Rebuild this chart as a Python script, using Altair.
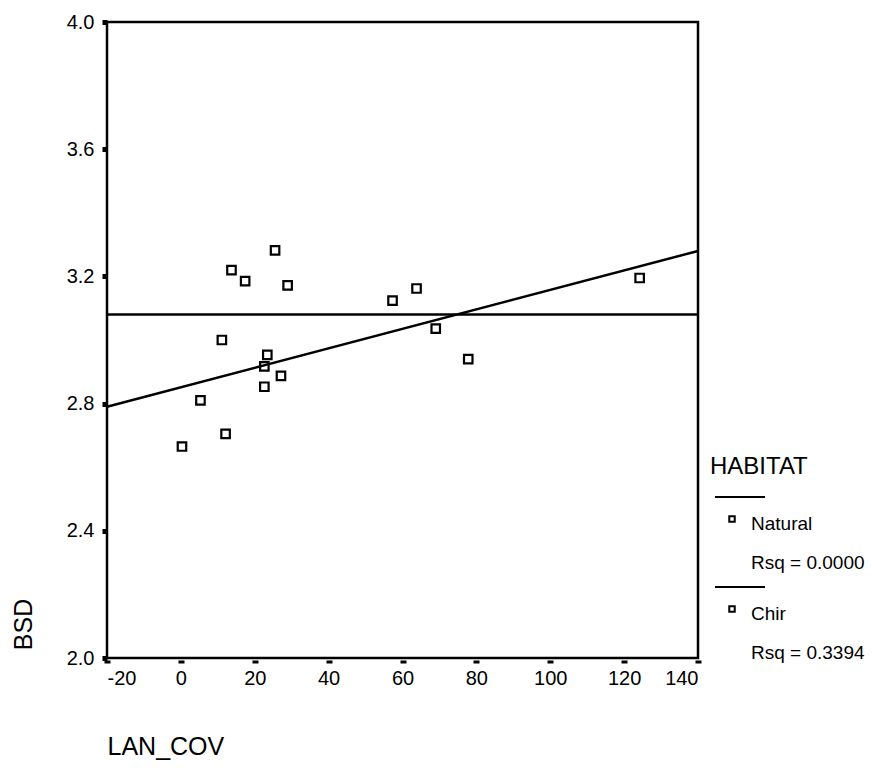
import altair as alt
import pandas as pd

# ---- data ----
lan_cov = [0.3, 5.3, 11.1, 12.1, 13.7, 17.4, 22.6, 23.4, 25.5, 27.1, 22.6, 28.9,
           57.3, 63.8, 69.0, 77.8, 124.2]
bsd = [2.665, 2.81, 3.00, 2.705, 3.22, 3.185, 2.917, 2.953, 3.282, 2.887, 2.853, 3.172,
       3.124, 3.162, 3.036, 2.94, 3.195]

fit_x = [-20, 140]
natural_fit = [3.08, 3.08]
chir_fit = [2.79, 3.28]

x_ticks = [-20, 0, 20, 40, 60, 80, 100, 120, 140]
y_ticks = [2.0, 2.4, 2.8, 3.2, 3.6, 4.0]

legend_title = "HABITAT"
legend_labels = ["Natural", "Chir"]
legend_rsq = ["Rsq = 0.0000", "Rsq = 0.3394"]

FONT = "Liberation Sans"

pts = pd.DataFrame({"LAN_COV": lan_cov, "BSD": bsd})
fits = pd.DataFrame({
    "x": fit_x * 2,
    "y": natural_fit + chir_fit,
    "series": ["Natural"] * 2 + ["Chir"] * 2,
})

xscale = alt.Scale(domain=[-20, 140], nice=False, zero=False)
yscale = alt.Scale(domain=[2.0, 4.0], nice=False, zero=False)

xaxis = alt.Axis(values=x_ticks, domain=False, grid=False, tickSize=3, tickWidth=6,
                 tickColor="black", offset=2, labelFont=FONT, labelFontSize=20,
                 labelColor="black", labelPadding=5,
                 labelExpr="toString(datum.value)",
                 title="LAN_COV", titleX=0,
                 titleY=86, titleAlign="left", titleBaseline="middle", titleFont=FONT,
                 titleFontSize=25, titleFontWeight="normal", titleColor="black")
yaxis = alt.Axis(values=y_ticks, format=".1f", domain=False, grid=False, tickSize=5,
                 tickWidth=5, tickColor="black", labelFont=FONT, labelFontSize=20,
                 labelColor="black", labelPadding=8, title="BSD", titleAngle=270,
                 titleX=-84, titleY=602, titleAlign="center", titleBaseline="middle",
                 titleFont=FONT, titleFontSize=25, titleFontWeight="normal",
                 titleColor="black")

points = alt.Chart(pts).mark_point(shape="square", filled=False, size=72, strokeWidth=2.2,
                                   color="black", opacity=1).encode(
    x=alt.X("LAN_COV:Q", scale=xscale, axis=xaxis),
    y=alt.Y("BSD:Q", scale=yscale, axis=yaxis),
)

lines = alt.Chart(fits).mark_line(color="black", strokeWidth=2.5).encode(
    x=alt.X("x:Q", scale=xscale),
    y=alt.Y("y:Q", scale=yscale),
    detail="series:N",
)

one = pd.DataFrame({"k": [0]})
layers = [lines, points]

def txt(s, x, y, size):
    return alt.Chart(one).mark_text(text=s, font=FONT, fontSize=size, align="left",
                                    baseline="middle", color="black").encode(
        x=alt.value(x), y=alt.value(y))

layers.append(txt(legend_title, 603, 445, 24))
for i, (lab, rsq) in enumerate(zip(legend_labels, legend_rsq)):
    off = i * 90
    layers.append(alt.Chart(one).mark_rule(color="black", strokeWidth=2).encode(
        x=alt.value(608), x2=alt.value(658), y=alt.value(475 + off)))
    layers.append(alt.Chart(one).mark_point(shape="square", filled=False, size=30,
                                            strokeWidth=2, color="black", opacity=1).encode(
        x=alt.value(625), y=alt.value(497 + off)))
    layers.append(txt(lab, 644, 502 + off, 19))
    layers.append(txt(rsq, 644, 541 + off, 19))

chart = alt.layer(*layers).properties(
    width=591, height=636,
    autosize=alt.AutoSizeParams(type="none"),
    padding={"left": 99, "top": 14, "right": 169, "bottom": 106},
    background="white",
).configure_view(stroke="black", strokeWidth=2.5)

chart.save("out.html", embed_options={"renderer": "svg", "actions": False})
